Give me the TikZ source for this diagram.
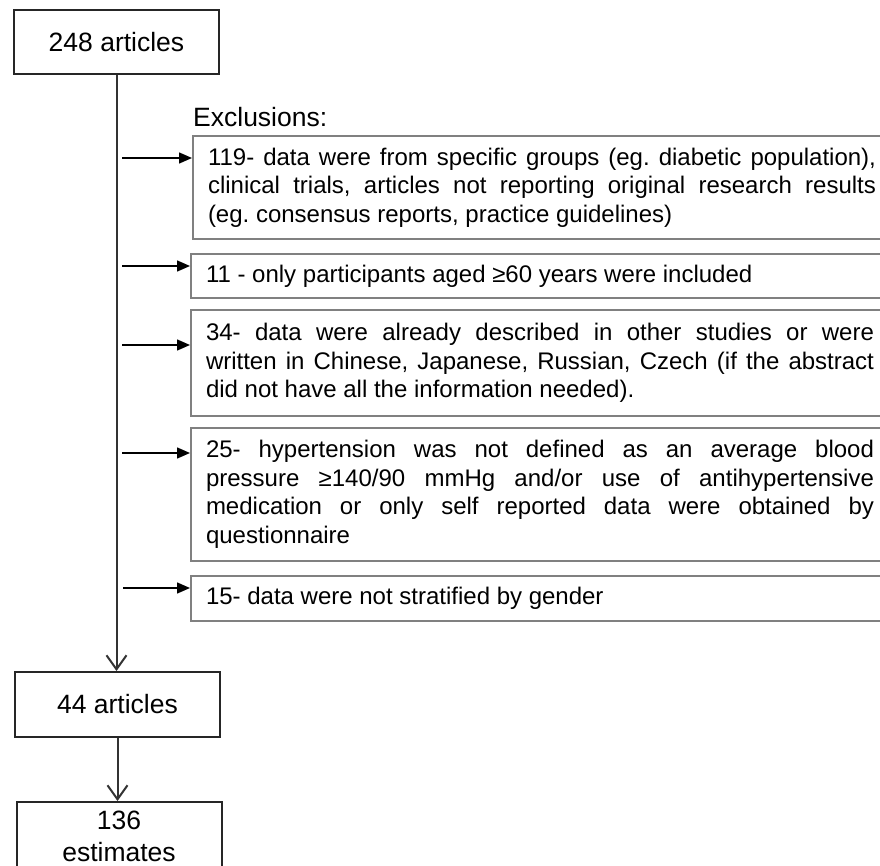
\documentclass[tikz,border=0pt]{standalone}
\usepackage{fontspec}
\setmainfont{Liberation Sans}
\usetikzlibrary{arrows.meta}
\hyphenpenalty=10000
\exhyphenpenalty=10000
\frenchspacing
\begin{document}
\begin{tikzpicture}[x=1pt,y=-1pt,
  mainbox/.style={draw=black!85, line width=2pt, minimum width=205pt, inner sep=0pt,
    align=center, font=\fontsize{26.5}{32}\selectfont},
  exbox/.style={draw=black!50, line width=2pt, anchor=north west, text width=668pt,
    inner xsep=15pt, inner ysep=0pt, align=justify,
    font=\fontsize{24}{28.5}\selectfont},
  exarrow/.style={-{Triangle[length=13pt,width=11pt]}, line width=1.5pt, draw=black},
  mainarrow/.style={-{Straight Barb[length=14pt,width=20pt]}, line width=2pt, draw=black!80}]
\useasboundingbox (0,0) rectangle (880,866);

% main boxes
\node[mainbox, minimum height=64pt] (b1) at (116.5,42) {248 articles};
\node[mainbox, minimum height=65pt] (b2) at (117.5,704.5) {44 articles};
\node[mainbox, minimum height=68pt] (b3) at (119,836) {136\\estimates};

% exclusions label
\node[anchor=base west, inner sep=0pt, font=\fontsize{26.5}{32}\selectfont] (exl) at (193,127) {Exclusions:};

% exclusion boxes
\node[exbox, minimum height=103pt] (exA) at (192,135) {119- data were from specific groups (eg. diabetic population),\linebreak clinical trials, articles not reporting original research results\linebreak (eg. consensus reports, practice guidelines)};
\node[exbox, minimum height=44pt] (exB) at (190,253) {11 - only participants aged ≥60 years were included};
\node[exbox, minimum height=106pt] (exC) at (190,309) {34- data were already described in other studies or were\linebreak written in Chinese, Japanese, Russian, Czech (if the abstract\linebreak did not have all the information needed).};
\node[exbox, minimum height=133pt] (exD) at (190,427) {25- hypertension was not defined as an average blood\linebreak pressure ≥140/90 mmHg and/or use of antihypertensive\linebreak medication or only self reported data were obtained by\linebreak questionnaire};
\node[exbox, minimum height=45pt] (exE) at (190,575) {15- data were not stratified by gender};

% arrow start points
\coordinate (sA) at (122,158);
\coordinate (sB) at (122,266);
\coordinate (sC) at (122,345);
\coordinate (sD) at (122,453);
\coordinate (sE) at (123,588);

% main flow
\draw[mainarrow] (b1.south) -- (b1.south |- b2.north);
\draw[mainarrow] (b2.south) -- (b2.south |- b3.north);

% exclusion arrows
\draw[exarrow] (sA) -- (sA -| exA.west);
\draw[exarrow] (sB) -- (sB -| exB.west);
\draw[exarrow] (sC) -- (sC -| exC.west);
\draw[exarrow] (sD) -- (sD -| exD.west);
\draw[exarrow] (sE) -- (sE -| exE.west);
\end{tikzpicture}
\end{document}
